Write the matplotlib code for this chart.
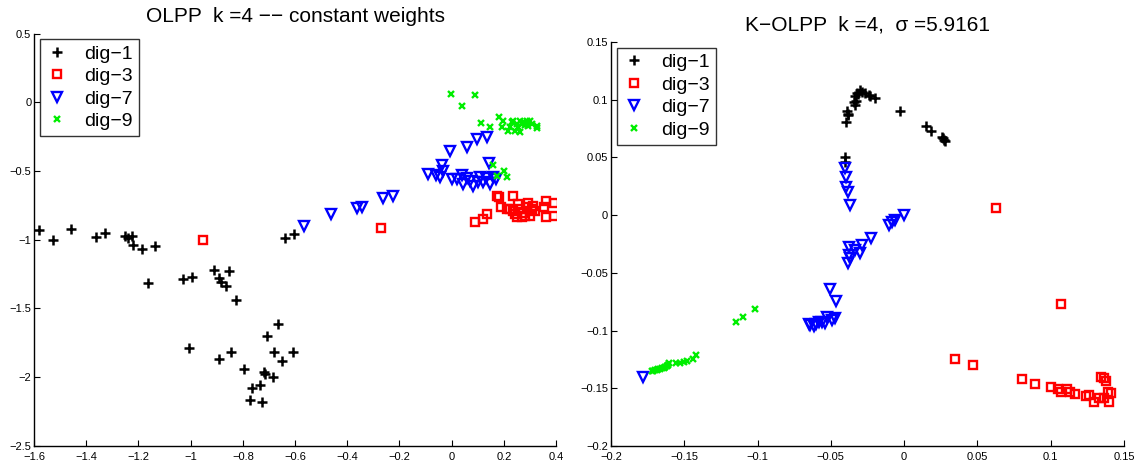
import matplotlib
matplotlib.use("Agg")
import matplotlib.pyplot as plt
from matplotlib.ticker import FixedLocator, FuncFormatter

plt.rcParams['font.family'] = ['Liberation Sans', 'DejaVu Sans']

# ---------------- Left panel data (OLPP) ----------------
L_d1_x = [-1.580, -1.526, -1.460, -1.364, -1.328, -1.250, -1.239, -1.224, -1.221, -1.188,
          -1.138, -1.162, -1.029, -0.995, -0.911, -0.854, -0.891, -0.883, -0.863, -0.828,
          -1.007, -0.890, -0.846, -0.797, -0.766, -0.774, -0.736, -0.726, -0.719, -0.716,
          -0.709, -0.684, -0.679, -0.665, -0.649, -0.608, -0.639, -0.605]
L_d1_y = [-0.930, -1.003, -0.922, -0.978, -0.952, -0.971, -0.988, -0.971, -1.039, -1.066,
          -1.046, -1.314, -1.287, -1.272, -1.219, -1.224, -1.279, -1.306, -1.335, -1.435,
          -1.787, -1.869, -1.814, -1.938, -2.080, -2.166, -2.054, -2.180, -1.960, -1.976,
          -1.700, -1.998, -1.814, -1.610, -1.882, -1.816, -0.988, -0.959]

L_d3_x = [-0.953, -0.272, 0.090, 0.121, 0.134, 0.173, 0.183, 0.236, 0.188, 0.211,
          0.360, 0.392, 0.355, 0.392, 0.360,
          0.256, 0.294, 0.313, 0.300, 0.249, 0.275, 0.320, 0.236, 0.262, 0.288,
          0.281, 0.243, 0.307, 0.269, 0.224]
L_d3_y = [-1.003, -0.915, -0.874, -0.850, -0.813, -0.680, -0.687, -0.680, -0.765, -0.777,
          -0.716, -0.736, -0.760, -0.826, -0.838,
          -0.740, -0.736, -0.753, -0.826, -0.838, -0.802, -0.789, -0.789, -0.777, -0.765,
          -0.826, -0.813, -0.777, -0.838, -0.777]

L_d7_x = [-0.566, -0.462, -0.362, -0.343, -0.263, -0.225,
          -0.006, 0.058, 0.098, 0.137, 0.144, -0.038, -0.089, -0.044, -0.032, 0.000,
          0.039, 0.045, 0.070, 0.083, 0.109, 0.121, 0.147, 0.160,
          0.020, 0.060, 0.100, 0.130, -0.060, 0.170]
L_d7_y = [-0.898, -0.811, -0.767, -0.760, -0.694, -0.680,
          -0.352, -0.323, -0.267, -0.255, -0.445, -0.456, -0.522, -0.547, -0.498, -0.558,
          -0.527, -0.595, -0.571, -0.607, -0.547, -0.583, -0.595, -0.547,
          -0.560, -0.550, -0.580, -0.550, -0.530, -0.560]

L_d9_x = [-0.002, 0.090, 0.039, 0.111, 0.146, 0.182, 0.198, 0.192,
          0.224, 0.236, 0.249, 0.262, 0.275, 0.288, 0.300, 0.243, 0.262, 0.326, 0.328,
          0.217, 0.230, 0.256, 0.281, 0.307, 0.269, 0.294,
          0.157, 0.173, 0.202, 0.211]
L_d9_y = [0.058, 0.056, -0.024, -0.153, -0.182, -0.105, -0.139, -0.182,
          -0.182, -0.134, -0.158, -0.134, -0.146, -0.134, -0.139, -0.207, -0.219, -0.170, -0.187,
          -0.207, -0.146, -0.182, -0.163, -0.158, -0.158, -0.170,
          -0.456, -0.534, -0.503, -0.541]

# ---------------- Right panel data (K-OLPP) ----------------
R_d1_x = [-0.0344, -0.0332, -0.0320, -0.0303, -0.0286, -0.0264, -0.0241, -0.0230, -0.0196,
          -0.0312, -0.0326, -0.0338, -0.0389, -0.0385, -0.0394, -0.0380, -0.0025, 0.0146,
          0.0185, 0.0260, 0.0271, 0.0265, 0.0280, -0.0400, -0.0400]
R_d1_y = [0.0984, 0.1028, 0.1056, 0.1086, 0.1071, 0.1056, 0.1042, 0.1036, 0.1019,
          0.1050, 0.0990, 0.0950, 0.0898, 0.0869, 0.0811, 0.0880, 0.0898, 0.0768,
          0.0731, 0.0681, 0.0652, 0.0670, 0.0640, 0.0500, 0.0464]

R_d3_x = [0.0625, 0.1069, 0.0807, 0.0891, 0.1005, 0.1051, 0.1069, 0.1114, 0.1132, 0.1167,
          0.1240, 0.1262, 0.1297, 0.1331, 0.1342, 0.1361, 0.1377, 0.1388, 0.1399, 0.1365,
          0.1411, 0.0350, 0.0470]
R_d3_y = [0.0066, -0.0769, -0.1422, -0.1462, -0.1485, -0.1505, -0.1529, -0.1505, -0.1535, -0.1546,
          -0.1563, -0.1557, -0.1615, -0.1587, -0.1399, -0.1413, -0.1436, -0.1529, -0.1615, -0.1587,
          -0.1543, -0.1245, -0.1300]

R_d7_x = [-0.0400, -0.0396, -0.0394, -0.0385, -0.0366, 0.0002, -0.0059, -0.0081, -0.0105,
          -0.0225, -0.0286, -0.0378, -0.0332, -0.0303, -0.0378, -0.0366, -0.0382, -0.0503,
          -0.0462, -0.0651, -0.0617, -0.0583, -0.0537, -0.0526, -0.0492, -0.0469, -0.0640,
          -0.0600, -0.0560, -0.1783]
R_d7_y = [0.0406, 0.0334, 0.0248, 0.0198, 0.0089, 0.0003, -0.0041, -0.0062, -0.0084,
          -0.0194, -0.0257, -0.0272, -0.0300, -0.0330, -0.0344, -0.0373, -0.0417, -0.0639,
          -0.0743, -0.0946, -0.0957, -0.0922, -0.0937, -0.0879, -0.0907, -0.0887, -0.0955,
          -0.0940, -0.0925, -0.1399]

R_d9_x = [-0.1722, -0.1699, -0.1677, -0.1653, -0.1630, -0.1608, -0.1603, -0.1556, -0.1528,
          -0.1501, -0.1483, -0.1437, -0.1419, -0.1148, -0.1096, -0.1016,
          -0.1710, -0.1688, -0.1665, -0.1640, -0.1620]
R_d9_y = [-0.1349, -0.1340, -0.1332, -0.1327, -0.1318, -0.1297, -0.1277, -0.1283, -0.1277,
          -0.1269, -0.1263, -0.1245, -0.1211, -0.0922, -0.0879, -0.0812,
          -0.1352, -0.1345, -0.1336, -0.1325, -0.1305]

labels = ['dig\u22121', 'dig\u22123', 'dig\u22127', 'dig\u22129']

L_xticks = [-1.6, -1.4, -1.2, -1, -0.8, -0.6, -0.4, -0.2, 0, 0.2, 0.4]
L_yticks = [-2.5, -2, -1.5, -1, -0.5, 0, 0.5]
R_xticks = [-0.2, -0.15, -0.1, -0.05, 0, 0.05, 0.1, 0.15]
R_yticks = [-0.2, -0.15, -0.1, -0.05, 0, 0.05, 0.1, 0.15]

titles = ['OLPP  k =4 \u2212\u2212 constant weights', 'K\u2212OLPP  k =4,  \u03c3 =5.9161']

fig = plt.figure(figsize=(11.39, 4.65), dpi=100)
axL = fig.add_axes([0.0299, 0.0409, 0.4583, 0.887])
axR = fig.add_axes([0.5364, 0.0409, 0.4504, 0.8688])


def fmt(v, pos):
    s = '%g' % v
    return s.replace('-', '\u2212')


def draw(ax, d1, d3, d7, d9, xlim, ylim, xt, yt, title):
    h1, = ax.plot(d1[0], d1[1], linestyle='none', marker='+', color='black',
                  markersize=6.5, markeredgewidth=1.8, label=labels[0])
    h3, = ax.plot(d3[0], d3[1], linestyle='none', marker='s', markerfacecolor='none',
                  markeredgecolor='red', markersize=5.4, markeredgewidth=1.7, label=labels[1])
    h7, = ax.plot(d7[0], d7[1], linestyle='none', marker='v', markerfacecolor='none',
                  markeredgecolor='blue', markersize=7.5, markeredgewidth=1.7, label=labels[2])
    h9, = ax.plot(d9[0], d9[1], linestyle='none', marker='x', color='#00ee00',
                  markersize=4.2, markeredgewidth=1.7, label=labels[3])
    ax.set_xlim(*xlim)
    ax.set_ylim(*ylim)
    ax.xaxis.set_major_locator(FixedLocator(xt))
    ax.yaxis.set_major_locator(FixedLocator(yt))
    ax.xaxis.set_major_formatter(FuncFormatter(fmt))
    ax.yaxis.set_major_formatter(FuncFormatter(fmt))
    ax.spines['top'].set_visible(False)
    ax.spines['right'].set_visible(False)
    ax.spines['left'].set_linewidth(1.0)
    ax.spines['bottom'].set_linewidth(1.0)
    ax.tick_params(direction='in', length=4, width=0.8, labelsize=8)
    ax.tick_params(axis='x', pad=4)
    ax.tick_params(axis='y', pad=2)
    ax.set_title(title, fontsize=15, pad=8)
    leg = ax.legend(handles=[h1, h3, h7, h9], loc='upper left', fontsize=14,
                    numpoints=1, frameon=True, fancybox=False, borderaxespad=0.3,
                    handlelength=1.2, handletextpad=0.8, labelspacing=0.25,
                    borderpad=0.3)
    leg.get_frame().set_edgecolor('black')
    leg.get_frame().set_linewidth(1.0)


draw(axL, (L_d1_x, L_d1_y), (L_d3_x, L_d3_y), (L_d7_x, L_d7_y), (L_d9_x, L_d9_y),
     (-1.6, 0.4), (-2.5, 0.5), L_xticks, L_yticks, titles[0])
draw(axR, (R_d1_x, R_d1_y), (R_d3_x, R_d3_y), (R_d7_x, R_d7_y), (R_d9_x, R_d9_y),
     (-0.2, 0.15), (-0.2, 0.15), R_xticks, R_yticks, titles[1])

fig.savefig('out.png', dpi=100)
